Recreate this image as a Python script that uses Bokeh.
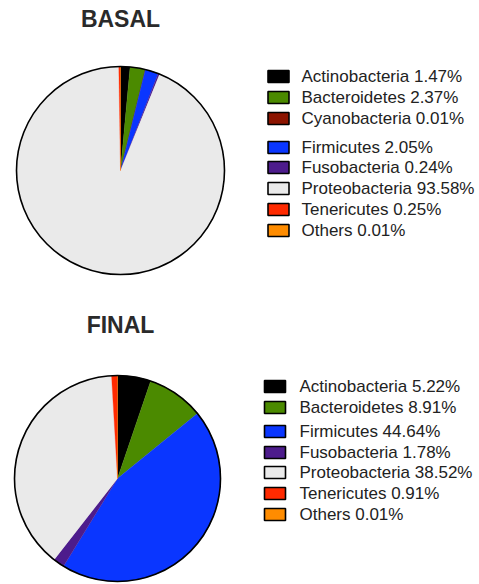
import numpy as np
from bokeh.plotting import figure
from bokeh.models import Range1d, ColumnDataSource
from bokeh.core.properties import value
from bokeh.embed import file_html
from bokeh.resources import INLINE

# ---- data ----
basal_names = ["Actinobacteria", "Bacteroidetes", "Cyanobacteria", "Firmicutes",
               "Fusobacteria", "Proteobacteria", "Tenericutes", "Others"]
basal_values = [1.47, 2.37, 0.01, 2.05, 0.24, 93.58, 0.25, 0.01]

final_names = ["Actinobacteria", "Bacteroidetes", "Firmicutes",
               "Fusobacteria", "Proteobacteria", "Tenericutes", "Others"]
final_values = [5.22, 8.91, 44.64, 1.78, 38.52, 0.91, 0.01]

# ---- styles ----
colors = {
    "Actinobacteria": "#000000",
    "Bacteroidetes": "#4b8a00",
    "Cyanobacteria": "#8c1400",
    "Firmicutes": "#0a36ff",
    "Fusobacteria": "#4d1c8c",
    "Proteobacteria": "#eaeaea",
    "Tenericutes": "#ff2a00",
    "Others": "#ff8c00",
}

W, H = 479, 584
FONT = "Liberation Sans"


def sx(x):  # reference pixel x -> data x
    return x


def sy(y):  # reference pixel y -> data y
    return H - y


p = figure(width=W, height=H, output_backend="svg", toolbar_location=None,
           x_range=Range1d(0, W), y_range=Range1d(0, H), min_border=0)
p.axis.visible = False
p.grid.visible = False
p.outline_line_color = None
p.background_fill_color = "white"
p.border_fill_color = "white"


def draw_pie(names, vals, title, title_pos, center, r, sq_x, text_x, rows_y):
    vals = np.array(vals, dtype=float)
    frac = vals / vals.sum()
    cum = np.concatenate([[0.0], np.cumsum(frac)])
    start = np.pi / 2 - 2 * np.pi * cum[:-1]
    end = np.pi / 2 - 2 * np.pi * cum[1:]
    src = ColumnDataSource(dict(
        start=start, end=end, color=[colors[n] for n in names]))
    cx, cy = sx(center[0]), sy(center[1])
    p.wedge(x=cx, y=cy, radius=r, start_angle="start", end_angle="end",
            direction="clock", fill_color="color", line_color="color",
            line_width=0.3, source=src)
    p.circle(x=[cx], y=[cy], radius=r, fill_color=None,
             line_color="black", line_width=1.6)
    p.text(x=[sx(title_pos[0])], y=[sy(title_pos[1])], text=[title],
           text_font=value(FONT), text_font_size="23px", text_font_style="bold",
           text_color="#2a2a2a", text_align="center", text_baseline="middle")
    ys = [sy(v) for v in rows_y]
    lsrc = ColumnDataSource(dict(
        x=[sx(sq_x)] * len(names), tx=[sx(text_x)] * len(names), y=ys,
        color=[colors[n] for n in names],
        label=[f"{n} {v:.2f}%" for n, v in zip(names, vals)]))
    p.rect(x="x", y="y", width=21, height=12, fill_color="color",
           line_color="black", line_width=1.6, source=lsrc)
    p.text(x="tx", y="y", text="label", source=lsrc,
           text_font=value(FONT), text_font_size="17px",
           text_color="#222222", text_align="left", text_baseline="middle")


draw_pie(basal_names, basal_values, "BASAL", (120, 18), (120, 170), 104,
         278, 301, [76, 97, 118, 147, 167, 188, 209, 230])
draw_pie(final_names, final_values, "FINAL", (120, 324), (117, 478), 103,
         274.5, 299, [386, 407, 431, 452, 472, 493, 514])

open("out.html", "w").write(file_html(p, INLINE))
